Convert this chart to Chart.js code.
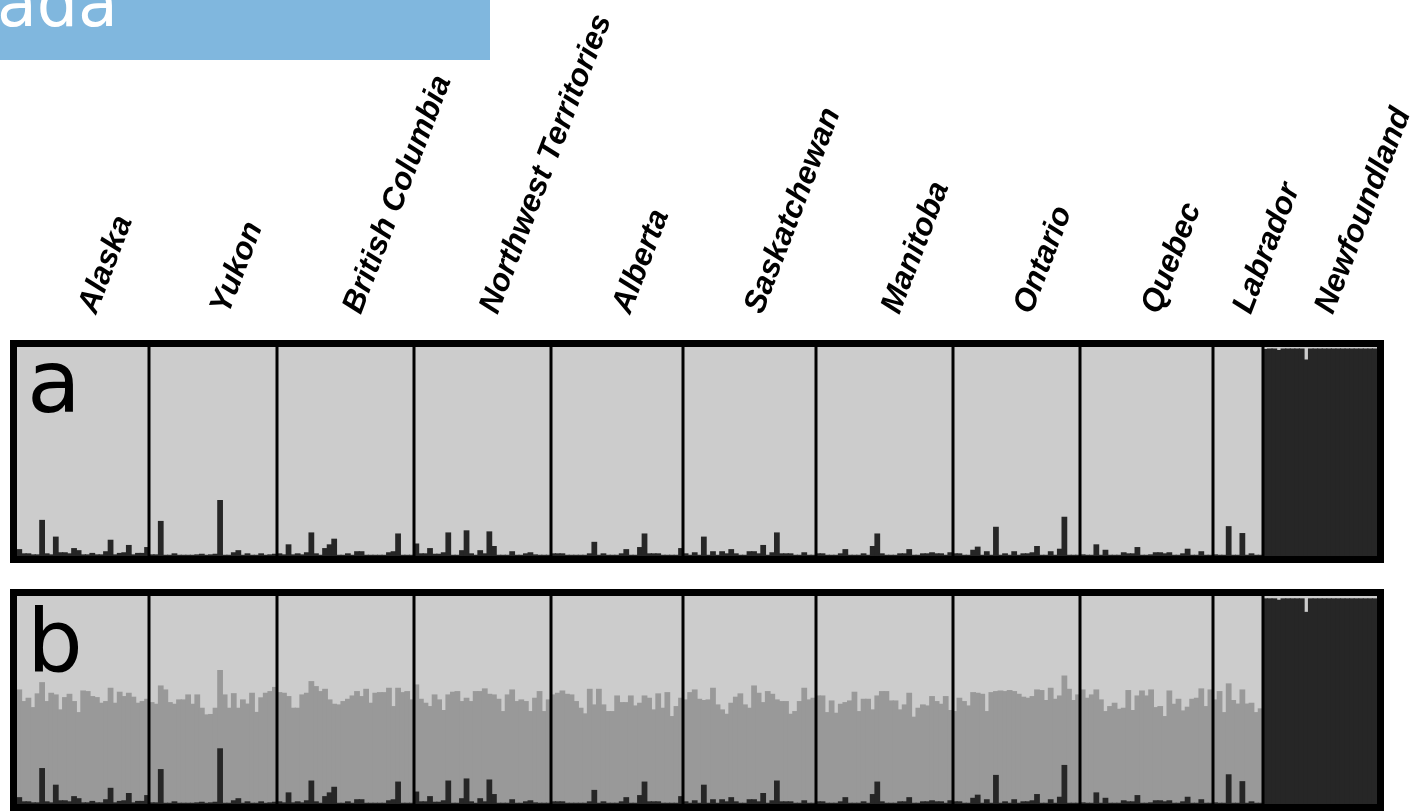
<!DOCTYPE html>
<html>
<head>
<meta charset="utf-8">
<title>Canada</title>
<script src="https://cdn.jsdelivr.net/npm/chart.js@4.4.1/dist/chart.umd.min.js"></script>
<style>
  html, body { margin: 0; padding: 0; background: #fff; }
  body { width: 1417px; height: 811px; position: relative; overflow: hidden; font-family: "DejaVu Sans", sans-serif; }
  #title { position: absolute; left: 0; top: 0; width: 490px; height: 60px; background: #80b7de; overflow: hidden; z-index: 2; }
  #title span { position: absolute; left: -3px; top: -29px; font-size: 65px; line-height: 65px; color: #fff; }
  #chartA { position: absolute; left: 0; top: 0; }
  #chartB { position: absolute; left: 0; top: 580px; }
  .panel-letter { position: absolute; left: 27px; font-size: 88px; line-height: 88px; color: #000; z-index: 2; }
</style>
</head>
<body>
<div id="title"><span>ada</span></div>
<canvas id="chartA" width="1417" height="570"></canvas>
<canvas id="chartB" width="1417" height="231"></canvas>
<div class="panel-letter" style="top: 338px;">a</div>
<div class="panel-letter" style="top: 597px;">b</div>
<script>
// sampling regions, west to east
const regions = ['Alaska', 'Yukon', 'British Columbia', 'Northwest Territories', 'Alberta',
    'Saskatchewan', 'Manitoba', 'Ontario', 'Quebec', 'Labrador', 'Newfoundland'];

// panel a (K = 2): share of the dark cluster per individual, one list per region
const darkA = [
    [0.03, 0.01, 0.01, 0.005, 0.005, 0.17, 0.01, 0.005, 0.09, 0.015, 0.015, 0.01, 0.035, 0.025, 0.005,
     0.005, 0.012, 0.005, 0.005, 0.02, 0.075, 0.005, 0.012, 0.015, 0.05, 0.005, 0.012, 0.012, 0.04],
    [0.005, 0.005, 0.165, 0.003, 0.003, 0.01, 0.003, 0.003, 0.003, 0.003, 0.005, 0.008, 0.003, 0.005,
     0.008, 0.265, 0.003, 0.003, 0.015, 0.025, 0.003, 0.01, 0.003, 0.003, 0.01, 0.003, 0.005, 0.008],
    [0.01, 0.005, 0.053, 0.005, 0.01, 0.005, 0.015, 0.11, 0.01, 0.003, 0.035, 0.053, 0.08, 0.003, 0.003,
     0.01, 0.003, 0.02, 0.02, 0.003, 0.003, 0.003, 0.003, 0.003, 0.015, 0.02, 0.105, 0.003, 0.003, 0.003],
    [0.057, 0.01, 0.01, 0.035, 0.008, 0.008, 0.015, 0.11, 0.003, 0.003, 0.025, 0.12, 0.01, 0.003, 0.025,
     0.01, 0.115, 0.045, 0.003, 0.003, 0.003, 0.02, 0.003, 0.003, 0.01, 0.015, 0.005, 0.003, 0.003, 0.003],
    [0.01, 0.01, 0.01, 0.003, 0.003, 0.003, 0.003, 0.003, 0.01, 0.065, 0.003, 0.01, 0.003, 0.003, 0.003,
     0.01, 0.03, 0.003, 0.003, 0.04, 0.105, 0.01, 0.01, 0.01, 0.003, 0.003, 0.003, 0.003, 0.035],
    [0.01, 0.003, 0.015, 0.003, 0.09, 0.003, 0.02, 0.003, 0.02, 0.01, 0.03, 0.01, 0.003, 0.003, 0.02,
     0.02, 0.01, 0.05, 0.003, 0.015, 0.11, 0.01, 0.01, 0.01, 0.003, 0.003, 0.015, 0.003, 0.003],
    [0.01, 0.01, 0.003, 0.003, 0.003, 0.01, 0.03, 0.003, 0.003, 0.003, 0.01, 0.003, 0.045, 0.105, 0.01,
     0.003, 0.003, 0.003, 0.01, 0.01, 0.03, 0.003, 0.003, 0.01, 0.01, 0.015, 0.01, 0.01, 0.003, 0.015],
    [0.01, 0.01, 0.003, 0.003, 0.027, 0.042, 0.003, 0.02, 0.003, 0.137, 0.003, 0.01, 0.003, 0.02,
     0.003, 0.01, 0.01, 0.015, 0.045, 0.003, 0.003, 0.02, 0.003, 0.032, 0.185, 0.003, 0.003, 0.003],
    [0.005, 0.003, 0.003, 0.053, 0.003, 0.027, 0.003, 0.003, 0.003, 0.015, 0.01, 0.01, 0.04, 0.003, 0.003,
     0.005, 0.015, 0.015, 0.01, 0.015, 0.003, 0.003, 0.01, 0.032, 0.003, 0.003, 0.02, 0.003, 0.003],
    [0.005, 0.003, 0.003, 0.14, 0.003, 0.003, 0.107, 0.003, 0.01, 0.003, 0.003],
    [0.988, 0.99, 0.99, 0.983, 0.99, 0.99, 0.99, 0.99, 0.99, 0.937, 0.99, 0.99, 0.99, 0.99, 0.99,
     0.99, 0.99, 0.99, 0.99, 0.99, 0.99, 0.99, 0.99, 0.99, 0.99]
];

// panel b (K = 3): dark cluster is the same as in a on the mainland
const nfDarkB = [0.985, 0.985, 0.985, 0.978, 0.985, 0.985, 0.985, 0.985, 0.985, 0.92, 0.985, 0.985, 0.985,
    0.985, 0.985, 0.985, 0.985, 0.985, 0.985, 0.985, 0.985, 0.985, 0.985, 0.985, 0.985];
const darkB = [...darkA.slice(0, 10), nfDarkB];

// panel b: top of the mid grey cluster (dark + mid share) per individual
const midTopB = [
    [0.548, 0.492, 0.508, 0.463, 0.529, 0.583, 0.492, 0.532, 0.524, 0.452, 0.511, 0.527, 0.492, 0.439, 0.543,
     0.54, 0.516, 0.511, 0.484, 0.492, 0.556, 0.484, 0.537, 0.516, 0.532, 0.513, 0.484, 0.492, 0.503],
    [0.487, 0.479, 0.567, 0.548, 0.487, 0.479, 0.5, 0.5, 0.524, 0.479, 0.524, 0.46, 0.428, 0.43,
     0.46, 0.641, 0.524, 0.46, 0.53, 0.46, 0.5, 0.48, 0.532, 0.44, 0.51, 0.532, 0.54, 0.56],
    [0.535, 0.532, 0.516, 0.46, 0.46, 0.524, 0.532, 0.588, 0.564, 0.54, 0.551, 0.5, 0.479, 0.476, 0.492,
     0.503, 0.519, 0.54, 0.516, 0.551, 0.484, 0.532, 0.535, 0.535, 0.556, 0.468, 0.556, 0.535, 0.54, 0.5],
    [0.572, 0.503, 0.484, 0.468, 0.524, 0.5, 0.449, 0.524, 0.537, 0.54, 0.492, 0.508, 0.492, 0.54, 0.54,
     0.553, 0.527, 0.524, 0.503, 0.444, 0.524, 0.548, 0.492, 0.5, 0.492, 0.444, 0.508, 0.54, 0.444, 0.5],
    [0.524, 0.532, 0.543, 0.527, 0.524, 0.492, 0.46, 0.433, 0.551, 0.476, 0.551, 0.476, 0.444, 0.444, 0.519,
     0.487, 0.487, 0.519, 0.471, 0.484, 0.519, 0.508, 0.452, 0.529, 0.46, 0.535, 0.42, 0.468, 0.508],
    [0.5, 0.535, 0.548, 0.503, 0.497, 0.5, 0.556, 0.476, 0.452, 0.431, 0.484, 0.513, 0.529, 0.476, 0.46,
     0.567, 0.532, 0.487, 0.54, 0.527, 0.5, 0.492, 0.492, 0.431, 0.444, 0.492, 0.556, 0.5, 0.508],
    [0.519, 0.519, 0.439, 0.495, 0.436, 0.479, 0.487, 0.495, 0.537, 0.444, 0.503, 0.503, 0.452, 0.519, 0.54,
     0.54, 0.495, 0.495, 0.452, 0.476, 0.532, 0.417, 0.46, 0.476, 0.471, 0.516, 0.492, 0.479, 0.516, 0.449],
    [0.444, 0.508, 0.492, 0.471, 0.535, 0.532, 0.527, 0.444, 0.535, 0.54, 0.543, 0.54, 0.545, 0.54,
     0.527, 0.513, 0.508, 0.516, 0.548, 0.545, 0.497, 0.556, 0.503, 0.519, 0.615, 0.551, 0.497, 0.524],
    [0.548, 0.508, 0.524, 0.548, 0.5, 0.444, 0.468, 0.484, 0.455, 0.46, 0.545, 0.449, 0.519, 0.543, 0.519,
     0.548, 0.463, 0.468, 0.42, 0.543, 0.479, 0.503, 0.447, 0.465, 0.503, 0.508, 0.553, 0.468, 0.548],
    [0.5, 0.54, 0.439, 0.577, 0.497, 0.48, 0.548, 0.48, 0.484, 0.439, 0.457],
    [0.988, 0.988, 0.988, 0.981, 0.988, 0.988, 0.988, 0.988, 0.988, 0.923, 0.988, 0.988, 0.988,
     0.988, 0.988, 0.988, 0.988, 0.988, 0.988, 0.988, 0.988, 0.988, 0.988, 0.988, 0.988]
];

const colors = { light: '#cccccc', mid: '#999999', dark: '#262626', line: '#000000' };

// one category per individual; remember where each region starts and its middle
const individuals = [];
const centers = new Map();
const boundaries = [];
regions.forEach((name, g) => {
    const start = individuals.length;
    const n = darkA[g].length;
    if (g > 0) boundaries.push(start);
    for (let k = 0; k < n; k++) individuals.push(name + ' ' + (k + 1));
    centers.set(start + Math.floor(n / 2), name);
});

// light grey background cluster, region separators and the heavy frame
const panelPlugin = {
    id: 'panel',
    beforeDatasetsDraw(chart) {
        const { ctx, chartArea: a } = chart;
        ctx.save();
        ctx.fillStyle = colors.light;
        ctx.fillRect(a.left, a.top, a.right - a.left, a.bottom - a.top);
        ctx.restore();
    },
    afterDatasetsDraw(chart) {
        const { ctx, chartArea: a, scales: { x } } = chart;
        ctx.save();
        ctx.strokeStyle = colors.line;
        ctx.lineWidth = 3;
        boundaries.forEach(b => {
            const px = Math.round((x.getPixelForValue(b - 1) + x.getPixelForValue(b)) / 2);
            ctx.beginPath();
            ctx.moveTo(px, a.top);
            ctx.lineTo(px, a.bottom);
            ctx.stroke();
        });
        ctx.lineWidth = 7;
        ctx.strokeRect(a.left - 3.5, a.top - 3.5, a.right - a.left + 7, a.bottom - a.top + 7);
        ctx.restore();
    }
};

const barStyle = { barPercentage: 1, categoryPercentage: 1, borderWidth: 0, grouped: false, inflateAmount: 0.6 };

new Chart(document.getElementById('chartA'), {
    type: 'bar',
    data: {
        labels: individuals,
        datasets: [{ label: 'K = 2, cluster 2', data: darkA.flat(), backgroundColor: colors.dark, ...barStyle }]
    },
    options: {
        responsive: false,
        animation: false,
        devicePixelRatio: 1,
        layout: { padding: { left: 17, right: 40, top: 0, bottom: 14 } },
        plugins: { legend: { display: false }, tooltip: { enabled: false } },
        scales: {
            x: {
                position: 'top',
                grid: { display: false, drawTicks: false },
                border: { display: false },
                afterFit: scale => {
                    scale.height = 347;
                    scale.paddingLeft = 0;
                    scale.paddingRight = 0;
                },
                ticks: {
                    autoSkip: false,
                    minRotation: 69,
                    maxRotation: 69,
                    padding: 28,
                    labelOffset: 40,
                    color: '#000',
                    font: { family: 'Liberation Sans', size: 31.5, style: 'italic', weight: 'bold' },
                    callback: (v, i) => centers.get(i) || ''
                }
            },
            y: { display: false, min: 0, max: 1 }
        }
    },
    plugins: [panelPlugin]
});

new Chart(document.getElementById('chartB'), {
    type: 'bar',
    data: {
        labels: individuals,
        datasets: [
            { label: 'K = 3, cluster 3', data: darkB.flat(), backgroundColor: colors.dark, order: 0, ...barStyle },
            { label: 'K = 3, cluster 2', data: midTopB.flat(), backgroundColor: colors.mid, order: 1, ...barStyle }
        ]
    },
    options: {
        responsive: false,
        animation: false,
        devicePixelRatio: 1,
        layout: { padding: { left: 17, right: 40, top: 16, bottom: 7 } },
        plugins: { legend: { display: false }, tooltip: { enabled: false } },
        scales: {
            x: { display: false },
            y: { display: false, min: 0, max: 1 }
        }
    },
    plugins: [panelPlugin]
});
</script>
</body>
</html>
